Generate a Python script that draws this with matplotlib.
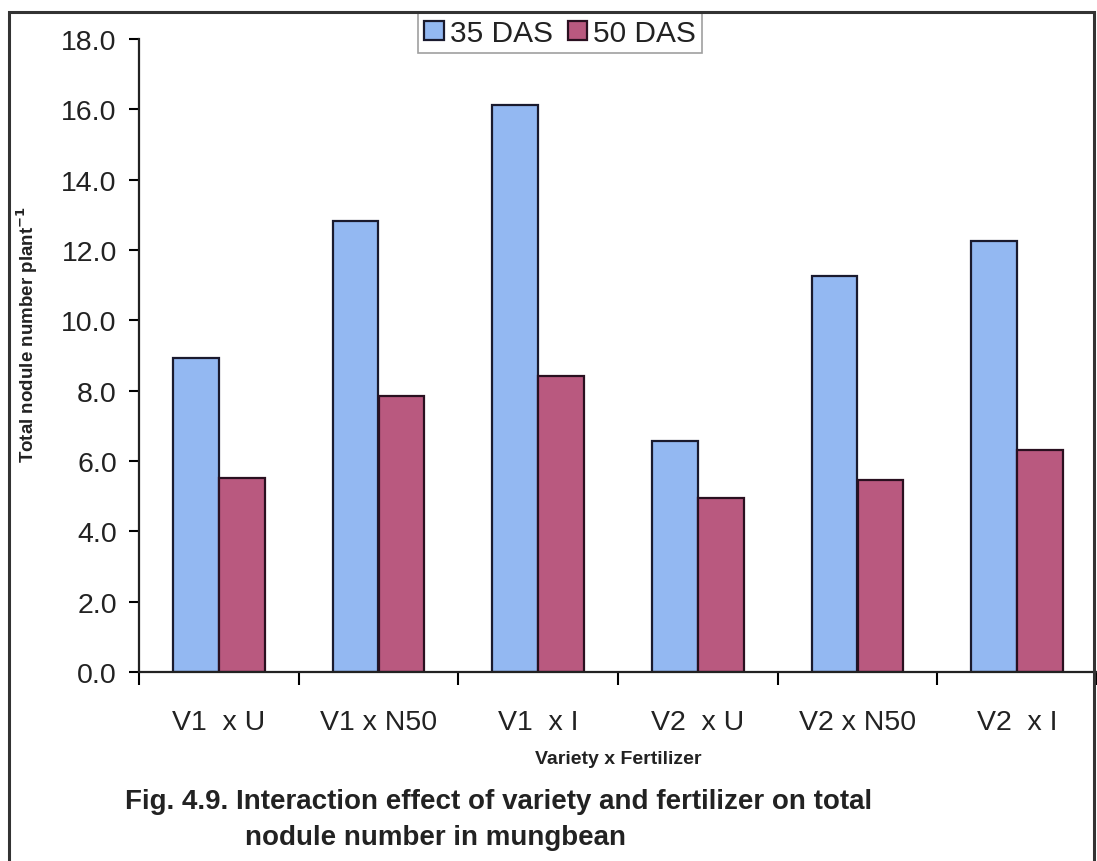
import matplotlib
matplotlib.use("Agg")
import matplotlib.pyplot as plt
from matplotlib import font_manager
from matplotlib.patches import Rectangle
import numpy as np

categories = ["V1  x U", "V1 x N50", "V1  x I", "V2  x U", "V2 x N50", "V2  x I"]
das35 = [8.93, 12.82, 16.12, 6.57, 11.26, 12.25]
das50 = [5.52, 7.85, 8.42, 4.95, 5.46, 6.31]
series_names = ["35 DAS", "50 DAS"]
yticks = [0, 2, 4, 6, 8, 10, 12, 14, 16, 18]

names = {f.name for f in font_manager.fontManager.ttflist}
base = "Liberation Sans" if "Liberation Sans" in names else "DejaVu Sans"
plt.rcParams['font.family'] = [base, 'DejaVu Sans']

fig = plt.figure(figsize=(10.97, 8.62), dpi=100)
ax = fig.add_axes([139/1097, 1 - 673/862, 1 - 139/1097, (673 - 40)/862])
ax.patch.set_alpha(0)

x = np.arange(len(categories))
w = 0.2875
blue = "#93B8F2"
red = "#B9597F"
b1 = ax.bar(x - w/2, das35, w, color=blue, edgecolor="#1a1a2e", linewidth=1.6, label=series_names[0])
b2 = ax.bar(x + w/2, das50, w, color=red, edgecolor="#2a1020", linewidth=1.6, label=series_names[1])

ax.set_xlim(-0.5, len(categories) - 0.5)
ax.set_ylim(0, 18)
ax.set_yticks(yticks)
ax.set_yticklabels([f"{v:.1f}" for v in yticks], fontsize=20.5, color="#222222")
ax.set_xticks(x)
ax.set_xticklabels(categories, fontsize=20.5, color="#222222")
ax.tick_params(axis='x', which='major', length=0, pad=27)
ax.set_xticks(np.arange(-0.5, len(categories)), minor=True)
ax.tick_params(axis='x', which='minor', length=9, width=1.5, direction='out')
ax.tick_params(axis='y', length=7, width=1.5, direction='out', pad=9)

for s in ["top", "right"]:
    ax.spines[s].set_visible(False)
for s in ["left", "bottom"]:
    ax.spines[s].set_linewidth(1.6)
    ax.spines[s].set_color("#222222")

fig.text(27/1097, 1 - 335/862, "Total nodule number plant$^{\\mathbf{-1}}$", rotation=90,
         ha='center', va='center', fontsize=13.5, fontweight='bold', color="#222222")
fig.text(618/1097, 1 - 760/862, "Variety x Fertilizer", ha='center', va='center',
         fontsize=14, fontweight='bold', color="#222222")
fig.text(125/1097, 1 - 802/862, "Fig. 4.9. Interaction effect of variety and fertilizer on total",
         ha='left', va='center', fontsize=20, fontweight='bold', color="#222222")
fig.text(245/1097, 1 - 838/862, "nodule number in mungbean",
         ha='left', va='center', fontsize=20, fontweight='bold', color="#222222")

leg = fig.legend(handles=[b1, b2], labels=series_names, loc='center', bbox_to_anchor=(560/1097, 1 - 34/862),
                 ncol=2, fontsize=21.5, frameon=True, fancybox=False, edgecolor="#888888",
                 handlelength=0.65, handleheight=0.65, handletextpad=0.2, columnspacing=0.5,
                 borderpad=0.2, borderaxespad=0)
leg.get_frame().set_linewidth(1.2)
for t in leg.get_texts():
    t.set_color("#222222")

frame = Rectangle((9/1097, -0.01), (1094 - 9)/1097, 1 - 13/862 + 0.01,
                  transform=fig.transFigure, fill=False, edgecolor="#333333",
                  linewidth=2.2, zorder=20)
fig.add_artist(frame)

fig.savefig("out.png", dpi=100)
